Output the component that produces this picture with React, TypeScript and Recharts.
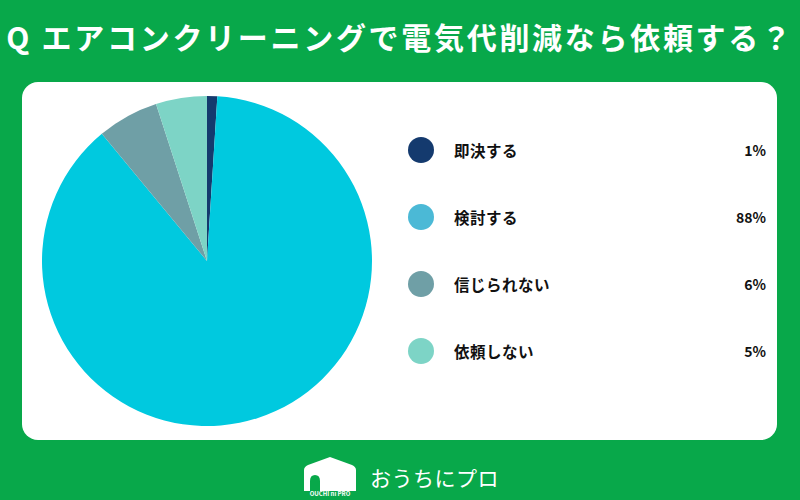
import { PieChart, Pie, Cell, Legend } from "recharts"

const labels = ["即決する", "検討する", "信じられない", "依頼しない"]
const shares = [1, 88, 6, 5]
const sliceColors = ["#143a6e", "#00c9df", "#6f9fa6", "#7dd4c6"]
const swatchColors = ["#143a6e", "#4bb9d6", "#6f9fa6", "#7dd4c6"]

const data = labels.map((name, i) => ({ name, value: shares[i] }))

const font = '"Noto Sans CJK JP", "Noto Sans", sans-serif'

function LegendRows() {
  return (
    <div style={{ width: 358, fontFamily: font }}>
      {data.map((d, i) => (
        <div
          key={d.name}
          style={{ display: "flex", alignItems: "center", height: 67, position: "relative" }}
        >
          <span
            style={{
              width: 26,
              height: 26,
              borderRadius: "50%",
              background: swatchColors[i],
              display: "inline-block",
            }}
          />
          <span style={{ marginLeft: 20, fontSize: 15.5, fontWeight: 700, color: "#111", letterSpacing: 0.5 }}>
            {d.name}
          </span>
          <span style={{ position: "absolute", right: 0, fontSize: 14, fontWeight: 700, color: "#111" }}>
            {d.value}%
          </span>
        </div>
      ))}
    </div>
  )
}

function HouseLogo() {
  return (
    <svg width={56} height={40} viewBox="0 0 56 40">
      <path d="M2 13 Q2 10 6 8 L28 0 L50 8 Q54 10 54 13 L54 34 L2 34 Z" fill="#fff" />
      <path d="M8 34 L8 24 Q8 18 13 18 Q18 18 18 24 L18 34 Z" fill="#08a84a" />
      <text x={28} y={39} textAnchor="middle" fontSize={6} fill="#fff" fontFamily={font} fontWeight={700}>
        OUCHI ni PRO
      </text>
    </svg>
  )
}

export default function App() {
  return (
    <div
      style={{
        position: "absolute",
        left: 0,
        top: 0,
        width: 800,
        height: 500,
        background: "#08a84a",
        fontFamily: font,
        overflow: "hidden",
      }}
    >
      <div
        style={{
          position: "absolute",
          top: 14,
          left: 0,
          width: 800,
          textAlign: "center",
          color: "#fff",
          fontSize: 30,
          fontWeight: 700,
          letterSpacing: 2.7,
          whiteSpace: "nowrap",
        }}
      >
        Q エアコンクリーニングで電気代削減なら依頼する？
      </div>
      <div
        style={{
          position: "absolute",
          left: 22,
          top: 82,
          width: 755,
          height: 358,
          background: "#fff",
          borderRadius: 16,
        }}
      >
        <PieChart width={755} height={358}>
          <Pie
            data={data}
            dataKey="value"
            nameKey="name"
            cx={180}
            cy={174}
            outerRadius={165}
            startAngle={90}
            endAngle={-270}
            stroke="none"
            isAnimationActive={false}
          >
            {data.map((d, i) => (
              <Cell key={d.name} fill={sliceColors[i]} />
            ))}
          </Pie>
          <Legend
            layout="vertical"
            align="right"
            verticalAlign="top"
            wrapperStyle={{ top: 34, right: 11 }}
            content={() => <LegendRows />}
          />
        </PieChart>
      </div>
      <div
        style={{
          position: "absolute",
          left: 302,
          top: 457,
          display: "flex",
          alignItems: "center",
          color: "#fff",
        }}
      >
        <HouseLogo />
        <span style={{ marginLeft: 12, fontSize: 21, fontWeight: 400, letterSpacing: 0.5 }}>おうちにプロ</span>
      </div>
    </div>
  )
}
